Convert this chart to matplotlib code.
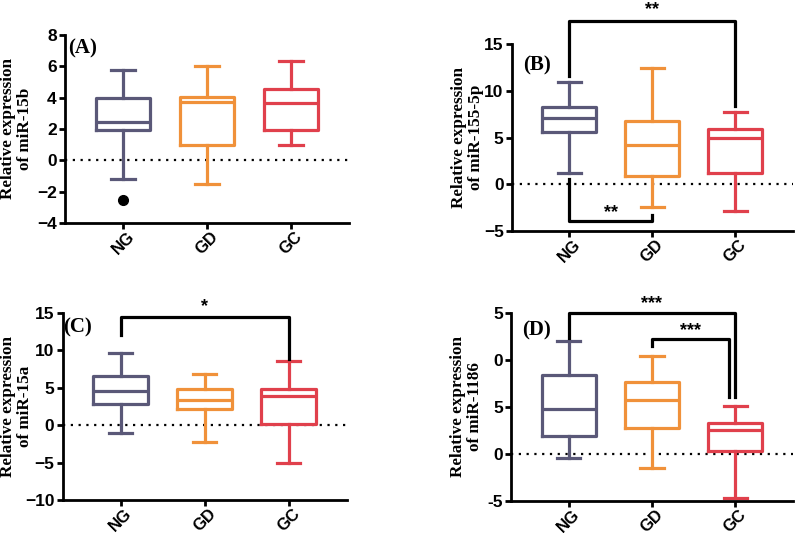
import numpy as np
import matplotlib
matplotlib.use("Agg")
import matplotlib.pyplot as plt

plt.rcParams["font.family"] = "Liberation Sans"
plt.rcParams["font.weight"] = "bold"
plt.rcParams["axes.linewidth"] = 2.0
plt.rcParams["xtick.major.width"] = 2.0
plt.rcParams["ytick.major.width"] = 2.0
plt.rcParams["xtick.major.size"] = 4
plt.rcParams["ytick.major.size"] = 4
plt.rcParams["xtick.labelsize"] = 12
plt.rcParams["ytick.labelsize"] = 12.5
plt.rcParams["ytick.major.pad"] = 2
plt.rcParams["xtick.major.pad"] = 0.5

groups = ["NG", "GD", "GC"]
colors = ["#5a5878", "#f0913a", "#e0404c"]

# five-number summaries per group: whisker low, Q1, median, Q3, whisker high
mir15b = [[-1.2, 1.95, 2.45, 3.97, 5.8], [-1.5, 0.95, 3.75, 4.07, 6.0], [0.95, 1.95, 3.65, 4.58, 6.37]]
mir15b_outliers = [[-2.55], [], []]
mir155 = [[1.2, 5.6, 7.1, 8.25, 11.0], [-2.4, 0.85, 4.2, 6.8, 12.5], [-2.9, 1.2, 4.95, 5.95, 7.75]]
mir15a = [[-1.1, 2.8, 4.6, 6.6, 9.6], [-2.2, 2.1, 3.3, 4.8, 6.8], [-5.0, 0.2, 3.9, 4.8, 8.6]]
mir1186 = [[-0.4, 1.95, 4.75, 8.4, 12.0], [-1.5, 2.8, 5.7, 7.6, 10.4], [-4.7, 0.3, 2.6, 3.3, 5.1]]

label_font = dict(family="Liberation Serif", weight="bold", size=12.3)
panel_font = dict(family="Liberation Serif", weight="bold", size=15)


def draw_boxes(ax, summaries, outliers=None):
    stats = []
    for i, s in enumerate(summaries):
        stats.append(dict(whislo=s[0], q1=s[1], med=s[2], q3=s[3], whishi=s[4],
                          fliers=outliers[i] if outliers else []))
    bp = ax.bxp(stats, positions=[1, 2, 3], widths=0.65, capwidths=0.28,
                showfliers=True, patch_artist=False,
                flierprops=dict(marker="o", markerfacecolor="k", markeredgecolor="k", markersize=7))
    for i, c in enumerate(colors):
        bp["boxes"][i].set(color=c, linewidth=2.3)
        bp["medians"][i].set(color=c, linewidth=2.3)
        for w in bp["whiskers"][2 * i:2 * i + 2]:
            w.set(color=c, linewidth=2.3)
        for cp in bp["caps"][2 * i:2 * i + 2]:
            cp.set(color=c, linewidth=2.3)


def style(ax, ylim, yticks, ylabel, labelx, yticklabels=None):
    ax.axhline(0, color="k", linestyle=(0, (1, 2.5)), linewidth=1.6, zorder=0)
    ax.set_xlim(0.31, 3.69)
    ax.set_ylim(*ylim)
    ax.set_yticks(yticks)
    if yticklabels is not None:
        ax.set_yticklabels(yticklabels)
    ax.set_xticks([1, 2, 3])
    ax.set_xticklabels(groups, rotation=45, ha="center", va="top")
    ax.spines["top"].set_visible(False)
    ax.spines["right"].set_visible(False)
    ax.set_ylabel(ylabel, **label_font, linespacing=1.1)
    ax.yaxis.set_label_coords(labelx, 0.5)


def bracket(ax, x1, x2, y, y1, y2, stars, ty):
    ax.plot([x1, x1, x2, x2], [y1, y, y, y2], color="k", linewidth=2.3, clip_on=False)
    ax.text((x1 + x2) / 2, ty, stars, ha="center", va="center", fontsize=13, clip_on=False)


fig = plt.figure(figsize=(7.95, 5.33), dpi=100)
axA = fig.add_axes([0.082, 0.582, 0.357, 0.352])
axB = fig.add_axes([0.644, 0.567, 0.353, 0.350])
axC = fig.add_axes([0.079, 0.062, 0.357, 0.351])
axD = fig.add_axes([0.643, 0.060, 0.354, 0.353])

draw_boxes(axA, mir15b, mir15b_outliers)
style(axA, (-4, 8), [-4, -2, 0, 2, 4, 6, 8], "Relative expression\nof miR-15b", -0.112)
axA.text(0.01, 0.985, "(A)", transform=axA.transAxes, va="top", ha="left", **panel_font)

draw_boxes(axB, mir155)
style(axB, (-5, 15), [-5, 0, 5, 10, 15], "Relative expression\nof miR-155-5p", -0.1)
axB.text(0.04, 0.94, "(B)", transform=axB.transAxes, va="top", ha="left", **panel_font)
bracket(axB, 1, 3, 17.5, 11.6, 8.4, "**", 18.7)
bracket(axB, 1, 2, -3.9, 0.5, -3.3, "**", -3.0)

draw_boxes(axC, mir15a)
style(axC, (-10, 15), [-10, -5, 0, 5, 10, 15], "Relative expression\nof miR-15a", -0.105)
axC.text(0.0, 0.975, "(C)", transform=axC.transAxes, va="top", ha="left", **panel_font)
bracket(axC, 1, 3, 14.5, 12.1, 8.8, "*", 15.9)

draw_boxes(axD, mir1186)
style(axD, (-5, 15), [-5, 0, 5, 10, 15], "Relative expression\nof miR-1186", -0.1,
      yticklabels=["-5", "0", "5", "0", "5"])
axD.text(0.04, 0.96, "(D)", transform=axD.transAxes, va="top", ha="left", **panel_font)
bracket(axD, 1, 3, 15.0, 12.3, 6.1, "***", 16.0)
bracket(axD, 2, 2.93, 12.2, 11.5, 6.1, "***", 13.1)

fig.savefig("out.png", dpi=100)
